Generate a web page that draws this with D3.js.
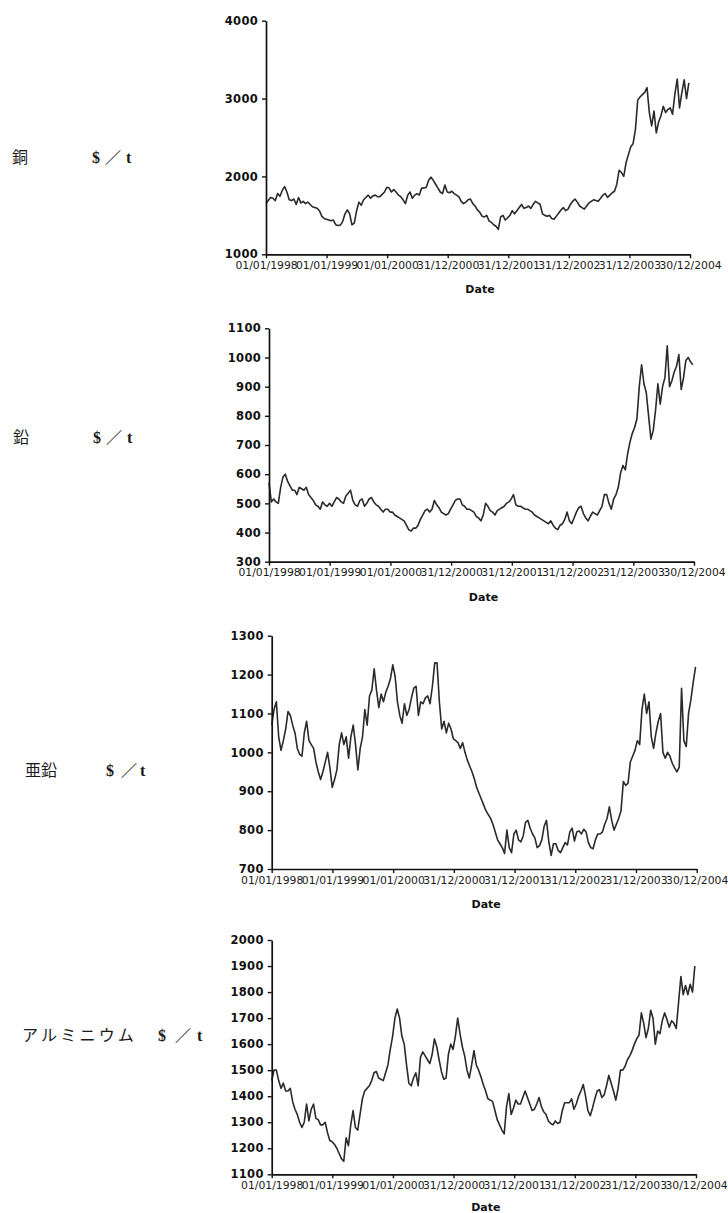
<!DOCTYPE html>
<html>
<head>
<meta charset="utf-8">
<script src="https://cdn.jsdelivr.net/npm/d3@7"></script>
<style>
  body { margin: 0; background: #fff; }
  svg { display: block; }
</style>
</head>
<body>
<svg id="chart" width="728" height="1213"></svg>
<script>
// Metal names and unit shown beside each panel
const metalNames = ["銅", "鉛", "亜鉛", "アルミニウム"];
const unitParts = ["$", "／", "t"];

// Dates marked on every x axis
const xTickDates = ["1998-01-01", "1999-01-01", "2000-01-01", "2000-12-31",
                    "2001-12-31", "2002-12-31", "2003-12-31", "2004-12-30"];

// Y tick values per panel
const copperTicks = [1000, 2000, 3000, 4000];
const leadTicks = [300, 400, 500, 600, 700, 800, 900, 1000, 1100];
const zincTicks = [700, 800, 900, 1000, 1100, 1200, 1300];
const aluminiumTicks = [1100, 1200, 1300, 1400, 1500, 1600, 1700, 1800, 1900, 2000];

// Fortnightly prices ($/t), starting 01/01/1998
const copper = [
  1655,1690,1730,1720,1690,1780,1745,1820,1870,1800,1700,1690,1710,1640,1730,1660,1680,1650,1670,1640,
  1610,1600,1590,1560,1490,1460,1450,1440,1430,1440,1380,1370,1375,1420,1520,1570,1520,1380,1400,1560,
  1670,1630,1700,1730,1760,1720,1750,1760,1740,1740,1770,1800,1860,1850,1800,1830,1800,1760,1740,1700,
  1650,1760,1800,1720,1760,1780,1760,1850,1850,1860,1950,1990,1950,1900,1850,1800,1780,1890,1800,1790,
  1810,1780,1760,1740,1680,1650,1670,1700,1710,1650,1620,1570,1540,1490,1480,1500,1430,1410,1380,1360,
  1320,1480,1500,1440,1470,1500,1560,1520,1560,1600,1640,1590,1600,1620,1590,1640,1680,1660,1640,1520,
  1500,1490,1500,1460,1450,1490,1530,1570,1600,1560,1580,1640,1680,1710,1670,1620,1600,1580,1620,1660,
  1680,1700,1690,1680,1720,1760,1780,1730,1760,1790,1810,1900,2080,2050,2000,2180,2280,2380,2420,2600,
  2980,3020,3050,3080,3140,2820,2650,2840,2560,2700,2780,2900,2820,2860,2880,2800,3060,3250,2880,3080,
  3240,3000,3200
];

const lead = [
  570,505,515,505,500,555,590,600,575,560,545,545,530,555,550,545,555,530,520,510,
  495,490,480,505,495,490,500,490,505,520,515,505,500,525,535,545,510,495,490,510,
  515,490,500,515,520,505,495,490,480,470,480,480,470,470,460,455,450,445,440,425,
  410,405,415,415,425,445,460,475,480,470,480,510,495,485,470,465,460,465,480,495,
  510,515,515,495,490,480,480,475,470,455,450,440,460,500,490,475,470,460,475,480,
  485,490,500,505,515,530,495,490,490,485,480,480,475,470,460,455,450,445,440,435,
  430,440,425,415,410,425,430,445,470,440,430,450,470,485,490,465,450,440,455,470,
  465,460,475,490,530,530,500,480,515,530,555,605,630,615,670,710,740,760,790,900,
  975,910,880,800,720,750,820,910,840,900,930,1040,900,920,950,970,1010,890,930,990,
  1000,985,975
];

const zinc = [
  1070,1110,1130,1040,1005,1030,1060,1105,1095,1070,1050,1010,995,990,1050,1080,1030,1020,1010,975,
  950,930,950,975,1000,960,910,930,955,1020,1050,1020,1040,985,1040,1070,1020,955,1010,1040,
  1110,1070,1145,1160,1215,1160,1115,1150,1130,1155,1170,1190,1225,1195,1130,1095,1075,1125,1095,1110,
  1140,1165,1170,1095,1130,1125,1140,1145,1125,1170,1230,1230,1130,1060,1080,1050,1075,1060,1035,1030,
  1025,1010,1025,1000,980,965,950,932,910,895,880,865,850,840,830,815,795,775,765,755,
  740,800,755,742,790,800,775,770,785,820,825,805,790,780,755,760,775,810,825,770,
  735,765,765,748,742,755,768,762,795,805,772,795,798,790,802,795,768,755,752,775,
  790,790,795,815,830,860,825,800,815,830,850,925,915,920,975,990,1005,1030,1020,1110,
  1150,1100,1130,1040,1010,1050,1080,1100,1000,985,1000,990,972,960,950,962,1165,1030,1015,1100,
  1135,1180,1220
];

const aluminium = [
  1460,1500,1500,1460,1430,1450,1420,1420,1430,1380,1350,1330,1300,1280,1300,1370,1305,1350,1370,1315,
  1310,1290,1290,1300,1260,1230,1225,1215,1200,1180,1160,1150,1240,1210,1290,1345,1280,1270,1330,1390,
  1420,1430,1440,1460,1490,1495,1470,1465,1460,1490,1520,1580,1630,1700,1735,1700,1630,1600,1520,1450,
  1440,1470,1490,1440,1550,1570,1555,1540,1525,1560,1620,1590,1540,1495,1465,1470,1560,1600,1580,1630,
  1700,1640,1590,1555,1500,1470,1520,1575,1520,1500,1475,1445,1420,1390,1385,1380,1345,1310,1290,1270,
  1255,1360,1410,1330,1355,1385,1370,1370,1395,1420,1395,1370,1345,1350,1370,1395,1360,1340,1330,1305,
  1295,1290,1305,1295,1300,1345,1375,1375,1375,1390,1350,1370,1400,1420,1445,1400,1345,1325,1355,1390,
  1420,1425,1395,1405,1440,1480,1450,1420,1385,1430,1500,1500,1515,1540,1555,1575,1600,1620,1635,1720,
  1680,1625,1660,1730,1700,1600,1650,1640,1690,1720,1695,1665,1690,1680,1660,1760,1860,1790,1825,1790,
  1830,1800,1900
];

const parseDate = d3.timeParse("%Y-%m-%d");
const formatDate = d3.timeFormat("%d/%m/%Y");
const startDate = parseDate(xTickDates[0]);
const endDate = parseDate(xTickDates[xTickDates.length - 1]);
const tickDates = xTickDates.map(parseDate);
// one sample every 14 days
const sampleDates = d3.range(copper.length).map(i => d3.timeDay.offset(startDate, 14 * i));

const panels = [
  { values: copper,    ticks: copperTicks,    x0: 266,   x1: 690,   yTop: 20.7,  yBot: 254.3,
    nameX: 12, labelY: 157,  unitX: [92, 105, 126],  spacing: 0 },
  { values: lead,      ticks: leadTicks,      x0: 269,   x1: 694,   yTop: 328.3, yBot: 561.7,
    nameX: 13, labelY: 437,  unitX: [93, 106, 127],  spacing: 0 },
  { values: zinc,      ticks: zincTicks,      x0: 271.7, x1: 696.7, yTop: 635.7, yBot: 869,
    nameX: 25, labelY: 770,  unitX: [106, 121, 140], spacing: 0 },
  { values: aluminium, ticks: aluminiumTicks, x0: 271.7, x1: 696,   yTop: 940,   yBot: 1174.3,
    nameX: 22, labelY: 1035, unitX: [158, 175, 197], spacing: 3.2 }
];

const svg = d3.select("#chart");
const svgHeight = +svg.attr("height");

panels.forEach((p, k) => {
  const x = d3.scaleTime().domain([startDate, endDate]).range([p.x0, p.x1]);
  const y = d3.scaleLinear().domain(d3.extent(p.ticks)).range([p.yBot, p.yTop]);

  const g = svg.append("g");

  // price line
  const line = d3.line()
    .x((d, i) => x(sampleDates[i]))
    .y(d => y(d));
  g.append("path")
    .datum(p.values)
    .attr("fill", "none")
    .attr("stroke", "#2a2a2a")
    .attr("stroke-width", 1.6)
    .attr("stroke-linejoin", "round")
    .attr("d", line);

  // x axis
  const xAxis = g.append("g")
    .attr("transform", `translate(0,${p.yBot})`)
    .call(d3.axisBottom(x).tickValues(tickDates).tickFormat(formatDate)
      .tickSizeInner(4).tickSizeOuter(0).tickPadding(3));
  xAxis.select(".domain").attr("stroke", "#111").attr("stroke-width", 1.7);
  xAxis.selectAll(".tick line").attr("stroke", "#111").attr("stroke-width", 1.4);
  xAxis.selectAll(".tick text")
    .attr("font-family", "'DejaVu Sans', Verdana, sans-serif")
    .attr("font-size", 10.8)
    .attr("fill", "#1a1a1a");

  // y axis
  const yAxis = g.append("g")
    .attr("transform", `translate(${p.x0},0)`)
    .call(d3.axisLeft(y).tickValues(p.ticks).tickFormat(d3.format("d"))
      .tickSizeInner(4).tickSizeOuter(0).tickPadding(4));
  yAxis.select(".domain").attr("stroke", "#111").attr("stroke-width", 1.7);
  yAxis.selectAll(".tick line").attr("stroke", "#111").attr("stroke-width", 1.4);
  yAxis.selectAll(".tick text")
    .attr("font-family", "'DejaVu Sans', Verdana, sans-serif")
    .attr("font-weight", "bold")
    .attr("font-size", 11.5)
    .attr("letter-spacing", 0.3)
    .attr("fill", "#111");

  // axis title, kept inside the page at the bottom
  g.append("text")
    .attr("x", (p.x0 + p.x1) / 2 + 2)
    .attr("y", Math.min(p.yBot + 39, svgHeight - 2))
    .attr("text-anchor", "middle")
    .attr("font-family", "'DejaVu Sans', Verdana, sans-serif")
    .attr("font-weight", "bold")
    .attr("font-size", 11)
    .attr("fill", "#111")
    .text("Date");

  // metal name and unit
  g.append("text")
    .attr("x", p.nameX)
    .attr("y", p.labelY)
    .attr("dy", "0.36em")
    .attr("font-family", "'Noto Sans CJK JP', sans-serif")
    .attr("font-size", 16)
    .attr("letter-spacing", p.spacing)
    .attr("fill", "#1a1a1a")
    .text(metalNames[k]);

  const unit = g.append("text")
    .attr("y", p.labelY)
    .attr("dy", "0.36em")
    .attr("font-family", "'Liberation Serif', 'Noto Sans CJK JP', serif")
    .attr("font-size", 16)
    .attr("font-weight", "bold")
    .attr("fill", "#1a1a1a");
  unitParts.forEach((s, j) => {
    unit.append("tspan")
      .attr("x", p.unitX[j])
      .text(s);
  });
});
</script>
</body>
</html>
